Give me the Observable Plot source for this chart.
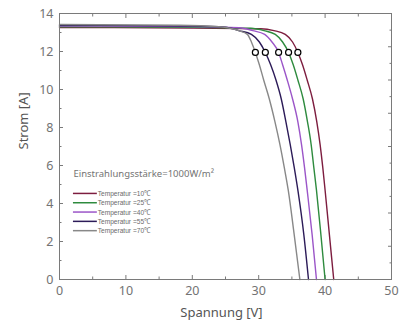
<!DOCTYPE html>
<html>
<head>
<meta charset="utf-8">
<script src="https://cdn.jsdelivr.net/npm/d3@7"></script>
<script src="https://cdn.jsdelivr.net/npm/@observablehq/plot@0.6"></script>
<style>
  html, body { margin: 0; padding: 0; background: #fff; }
  #chart svg { display: block; }
</style>
</head>
<body>
<div id="chart"></div>
<script>
// Series labels and colours
const seriesNames = ["Temperatur =10℃", "Temperatur =25℃", "Temperatur =40℃", "Temperatur =55℃", "Temperatur =70℃"];
const seriesColors = ["#7d1d3f", "#2e8b3e", "#9b55c8", "#2c1b58", "#888888"];

// I-V curves (voltage V, current A)
const v10 = [0, 20, 30.3, 32.3, 34.0, 35.1, 35.9, 36.6, 37.3, 38.1, 38.75, 39.25, 39.65, 40.0, 40.65, 41.3];
const i10 = [13.26, 13.24, 13.2, 13.1, 12.9, 12.5, 11.95, 11.3, 10.5, 9.5, 8.3, 7.1, 5.9, 4.7, 2.35, 0];
const v25 = [0, 20, 28.8, 30.8, 32.5, 33.6, 34.5, 35.2, 35.9, 36.7, 37.35, 37.9, 38.3, 38.7, 39.37, 40.0];
const i25 = [13.3, 13.27, 13.22, 13.1, 12.9, 12.5, 11.95, 11.3, 10.5, 9.5, 8.3, 7.1, 5.9, 4.7, 2.35, 0];
const v40 = [0, 20, 27.1, 29.1, 30.9, 32.0, 33.0, 33.6, 34.3, 35.1, 35.9, 36.45, 36.9, 37.3, 38.05, 38.7];
const i40 = [13.34, 13.31, 13.25, 13.1, 12.9, 12.5, 11.95, 11.3, 10.5, 9.5, 8.3, 7.1, 5.9, 4.7, 2.35, 0];
const v55 = [0, 20, 25.0, 27.0, 28.9, 30.1, 31.0, 31.8, 32.6, 33.4, 34.1, 34.75, 35.35, 35.9, 36.8, 37.5];
const i55 = [13.38, 13.34, 13.28, 13.1, 12.9, 12.5, 11.95, 11.3, 10.5, 9.5, 8.3, 7.1, 5.9, 4.7, 2.35, 0];
const v70 = [0, 18, 24.0, 27.0, 28.3, 28.9, 29.5, 30.1, 30.75, 31.6, 32.45, 33.2, 33.85, 34.45, 35.35, 36.2];
const i70 = [13.42, 13.38, 13.3, 13.1, 12.9, 12.5, 11.95, 11.3, 10.5, 9.5, 8.3, 7.1, 5.9, 4.7, 2.35, 0];

// MPP markers
const mppV = [29.5, 31.0, 33.0, 34.5, 35.9];
const mppI = [11.95, 11.95, 11.95, 11.95, 11.95];

// Axis ticks
const xTickLabels = [0, 10, 20, 30, 40, 50];
const xMinorTicks = [5, 15, 25, 35, 45];
const yTickLabels = [0, 2, 4, 6, 8, 10, 12, 14];
const yMinorTicks = [1, 3, 5, 7, 9, 11, 13];
const rightMajor = [0, 1.75, 3.5, 5.25, 7, 8.75, 10.5, 12.25, 14];
const rightMinor = [0.875, 2.625, 4.375, 6.125, 7.875, 9.625, 11.375, 13.125];

// Legend
const legendTitle = "Einstrahlungsstärke=1000W/m²";

const allV = [v10, v25, v40, v55, v70];
const allI = [i10, i25, i40, i55, i70];
const curves = [];
allV.forEach((vs, s) => vs.forEach((v, k) => curves.push({series: seriesNames[s], v, i: allI[s][k]})));
const mpp = mppV.map((v, k) => ({v, i: mppI[k]}));

// legend rows placed in data units
const legendRows = seriesNames.map((n, k) => ({name: n, color: seriesColors[k], y: 4.53 - k * 0.49}));

const axisColor = "#7a7a7a";
const textColor = "#737373";

const chart = Plot.plot({
  width: 399,
  height: 326,
  marginLeft: 59,
  marginRight: 8,
  marginTop: 13,
  marginBottom: 47,
  style: {fontFamily: "'Noto Sans', sans-serif", fontSize: "12.5px", color: textColor, background: "#fff"},
  x: {domain: [0, 50]},
  y: {domain: [0, 14]},
  color: {domain: seriesNames, range: seriesColors},
  marks: [
    // tick labels
    Plot.axisX({anchor: "bottom", ticks: xTickLabels, tickSize: 0, tickPadding: 7, label: null, fill: textColor}),
    Plot.axisY({anchor: "left", ticks: yTickLabels, tickSize: 0, tickPadding: 6, label: null, fill: textColor}),
    // inward ticks
    Plot.axisX({anchor: "bottom", ticks: xTickLabels, tickSize: -4, fill: "none", label: null, stroke: axisColor}),
    Plot.axisX({anchor: "bottom", ticks: xMinorTicks, tickSize: -2.5, fill: "none", label: null, stroke: axisColor}),
    Plot.axisX({anchor: "top", ticks: xTickLabels, tickSize: -4, fill: "none", label: null, stroke: axisColor}),
    Plot.axisX({anchor: "top", ticks: xMinorTicks, tickSize: -2.5, fill: "none", label: null, stroke: axisColor}),
    Plot.axisY({anchor: "left", ticks: yTickLabels, tickSize: -4, fill: "none", label: null, stroke: axisColor}),
    Plot.axisY({anchor: "left", ticks: yMinorTicks, tickSize: -2.5, fill: "none", label: null, stroke: axisColor}),
    Plot.axisY({anchor: "right", ticks: rightMajor, tickSize: -4, fill: "none", label: null, stroke: axisColor}),
    Plot.axisY({anchor: "right", ticks: rightMinor, tickSize: -2.5, fill: "none", label: null, stroke: axisColor}),
    // axis titles
    Plot.text(["Spannung [V]"], {frameAnchor: "bottom", dx: -4, dy: 37, fill: "#555", fontSize: 13}),
    Plot.text(["Strom [A]"], {frameAnchor: "left", dx: -36, dy: 3, rotate: -90, fill: "#555", fontSize: 13}),
    // curves
    Plot.line(curves, {x: "v", y: "i", z: "series", stroke: "series", strokeWidth: 1.4, curve: "monotone-x"}),
    Plot.dot(mpp, {x: "v", y: "i", r: 3, fill: "white", stroke: "black", strokeWidth: 1.2}),
    // legend
    Plot.text([legendTitle], {x: 2.1, y: 5.55, textAnchor: "start", fill: textColor, fontSize: 9.5}),
    Plot.ruleY(legendRows, {x1: 2.1, x2: 5.7, y: "y", stroke: "color", strokeWidth: 1.5}),
    Plot.text(legendRows, {x: 5.75, y: "y", text: "name", textAnchor: "start", fill: "#6a6a6a", fontSize: 8, fontFamily: "'Liberation Sans', Arial, sans-serif"}),
    Plot.frame({stroke: axisColor})
  ]
});

// condense the legend entry texts to the narrow width seen in the reference
d3.select(chart).selectAll("text")
  .filter(function () { return (this.textContent || "").startsWith("Temperatur"); })
  .attr("textLength", 53)
  .attr("lengthAdjust", "spacingAndGlyphs");

document.getElementById("chart").append(chart);
</script>
</body>
</html>
